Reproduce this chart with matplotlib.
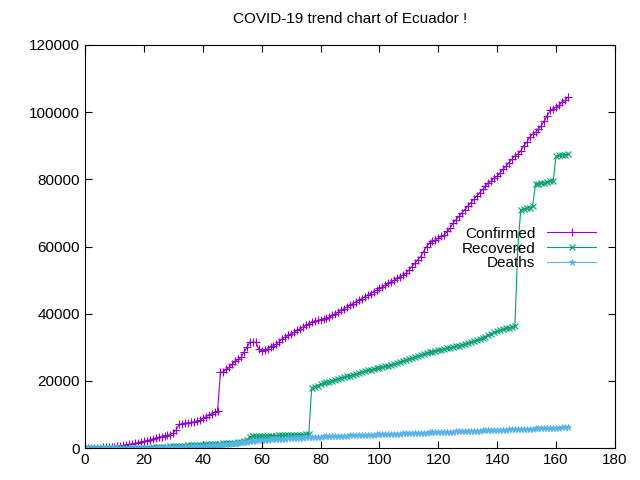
import matplotlib
matplotlib.use("Agg")
import matplotlib.pyplot as plt
import numpy as np

confirmed = [0,0,10,20,50,100,150,200,250,300,
400,500,600,800,1000,1100,1200,1400,1600,1800,
2000,2200,2400,2700,3000,3200,3400,3600,3800,4000,
4500,5500,7000,7200,7400,7500,7600,7800,8000,8200,
8800,9300,9800,10200,10600,11000,
22500,22700,23500,24000,
25000,25800,26500,27000,28500,30000,
31500,31500,31500,
29500,29000,29200,29500,30000,
30500,31000,31700,32500,33000,33500,
34000,34500,35000,35500,36000,36500,37000,37500,37800,38000,
38200,38400,38600,39000,39500,40000,40500,41000,41500,42000,
42500,43000,43500,44000,44500,45000,45500,46000,46500,47000,
47500,48000,48500,49000,49500,50000,50500,51000,51500,52000,
53000,54000,55000,56000,57000,58500,60000,61000,61500,62000,
62500,63000,63500,64500,65500,67000,68000,69000,70000,71000,
72000,73000,74000,75000,76000,77000,78000,79000,79500,80500,
81000,82000,83000,84000,85000,86000,87000,87500,88500,90000,
91000,92500,93500,94000,95000,96000,97500,99000,100500,101000,
101500,102000,103000,103500,104500]

recovered = [0]*10 + [3,5,8,10,15,20,30,50,60,80,
100,100,120,150,200,250,300,350,400,450,
500,550,600,650,700,750,800,850,900,950,1000,1050,1100,1150,1200,1250,
1300,1350,1400,1450,1500,1600,1700,1800,2000,2500,
3400,3450,3500,3500,3550,3600,3600,3650,3700,3700,3750,3800,3800,3850,3900,3900,3950,4000,4000,4050,4100,
18000,18300,18600,19000,19300,19600,19800,20000,20300,20600,20900,21100,21300,
21500,21800,22000,22300,22600,22900,23100,23300,23500,23700,
23900,24100,24300,24500,24700,25000,25300,25600,25900,26200,
26500,26800,27100,27400,27700,28000,28300,28500,28700,28900,
29100,29300,29500,29700,29900,30100,30300,30500,30700,30900,
31200,31500,31800,32100,32400,32800,33200,33600,34000,34400,
34700,35000,35300,35600,35800,36000,36200,
60000,71000,71200,71400,71600,72000,
78500,78700,78900,79000,79200,79400,79600,
87000,87100,87200,87300,87400]

deaths = [0,0,0,0,0,1,2,3,4,5,
7,10,14,18,22,28,34,40,50,60,
75,90,100,120,140,160,180,200,220,250,
280,300,330,360,400,430,460,500,550,600,
650,700,750,800,850,900,1000,1100,1200,1300,
1400,1500,1600,1700,1800,1900,2000,2100,2200,2300,
2400,2450,2500,2550,2600,2650,2700,2750,2800,2850,
2900,2950,3000,3050,3100,3150,3200,3250,3300,3350,
3400,3430,3460,3500,3530,3560,3600,3630,3660,3700,
3730,3760,3800,3830,3860,3900,3930,3960,4000,4030,
4060,4100,4130,4160,4200,4230,4260,4300,4330,4360,
4400,4430,4460,4500,4530,4560,4600,4630,4660,4700,
4730,4760,4800,4830,4860,4900,4930,4960,5000,5030,
5060,5100,5130,5160,5200,5230,5260,5300,5330,5360,
5400,5430,5460,5500,5530,5560,5600,5630,5660,5700,
5730,5760,5800,5830,5860,5900,5930,5960,6000,6030,
6060,6100,6130,6160,6200]

days = np.arange(len(confirmed))

plt.rcParams['font.family'] = ['Liberation Sans', 'DejaVu Sans']
fig = plt.figure(figsize=(6.4, 4.8), dpi=100)
ax = fig.add_axes([85/640, 1-448/480, (615-85)/640, (448-45)/480])
ax.plot(days, confirmed, color='#9400d3', marker='+', lw=0.8, ms=6, mew=0.8, label='Confirmed')
ax.plot(days, recovered, color='#009e73', marker='x', lw=0.8, ms=5, mew=0.8, label='Recovered')
ax.plot(days, deaths, color='#56b4e9', marker='*', lw=0.8, ms=5, mew=0.6, label='Deaths')
ax.set_xlim(0, 180)
ax.set_ylim(0, 120000)
ax.set_xticks(range(0, 181, 20))
ax.set_yticks(range(0, 120001, 20000))
ax.tick_params(direction='in', top=True, right=True, labelsize=11, length=5)
ax.set_title('COVID-19 trend chart of Ecuador !', fontsize=11, pad=16)
ax.legend(loc='center right', bbox_to_anchor=(0.985, 0.495), frameon=False, markerfirst=False,
          fontsize=11, handlelength=3.2, labelspacing=0.05, borderaxespad=0.3)
for t in ax.get_legend().get_texts():
    t.set_ha('right')
fig.savefig('out.png', dpi=100)
